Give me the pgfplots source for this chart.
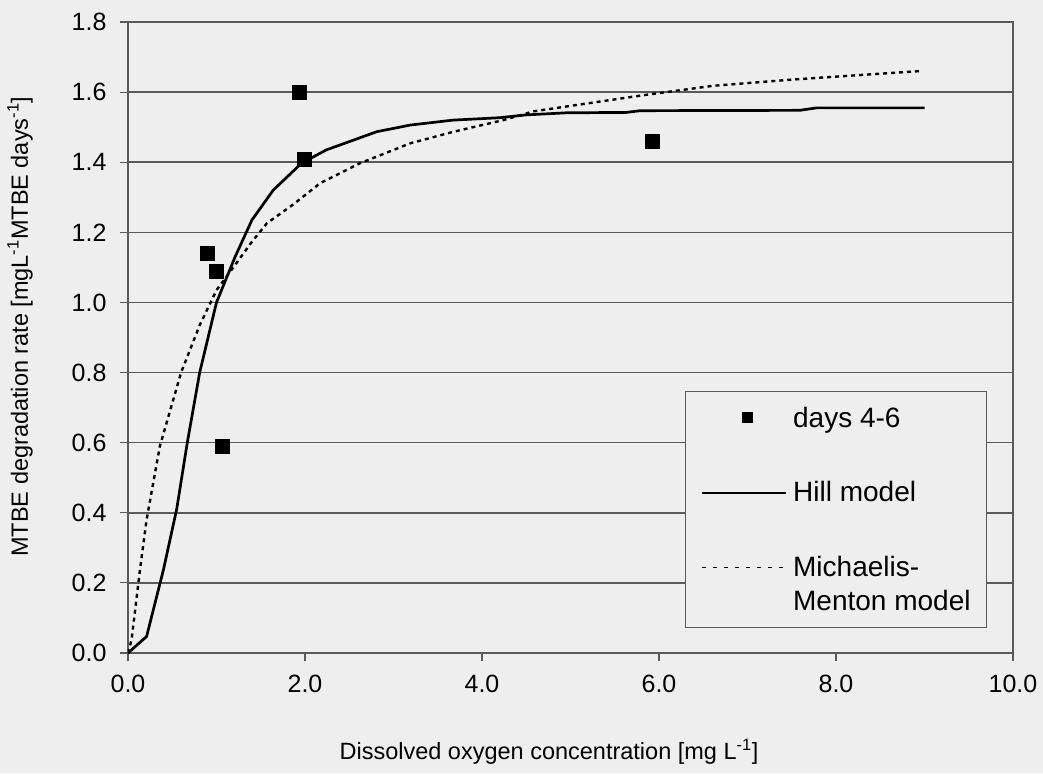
\documentclass[border=0pt]{standalone}
\usepackage{pgfplots}
\pgfplotsset{compat=1.18}
\usepackage{fontspec}
\setmainfont{Liberation Sans}
\definecolor{bg}{RGB}{238,238,238}
\definecolor{gridc}{RGB}{90,90,90}
\begin{document}
\begin{tikzpicture}
\useasboundingbox (-128pt,-120pt) rectangle (915pt,653pt);
\fill[bg] (-128pt,-120pt) rectangle (915pt,653pt);
\begin{axis}[
  scale only axis,
  width=885pt, height=631pt,
  xmin=0, xmax=10, ymin=0, ymax=1.8,
  xtick={0,2,4,6,8,10}, ytick={0,0.2,...,1.81},
  xticklabel={\pgfmathprintnumber[fixed,fixed zerofill,precision=1]{\tick}},
  yticklabel={\pgfmathprintnumber[fixed,fixed zerofill,precision=1]{\tick}},
  /pgf/number format/assume math mode=true,
  tick label style={font=\fontsize{25}{30}\selectfont},
  xticklabel style={yshift=-11pt},
  yticklabel style={xshift=-10pt},
  tick align=outside, major tick length=8pt,
  xtick pos=bottom, ytick pos=left,
  tick style={gridc, line width=1.2pt},
  axis line style={gridc, line width=1.5pt},
  ymajorgrids, major grid style={gridc, line width=1.5pt},
  xlabel={Dissolved oxygen concentration [mg L\textsuperscript{-1}]},
  ylabel={MTBE degradation rate [mgL\textsuperscript{-1}MTBE days\textsuperscript{-1}]},
  xlabel style={font=\fontsize{23.5}{28}\selectfont, at={(axis description cs:0.4757,-0.157)}, anchor=center},
  ylabel style={font=\fontsize{23.5}{28}\selectfont, at={(axis description cs:-0.122,0.517)}, anchor=center},
  legend style={at={(0.629,0.04)}, anchor=south west, fill=bg, draw=gridc, line width=1pt,
     font=\fontsize{28}{34}\selectfont, cells={anchor=west, align=left},
     row sep=49pt, inner xsep=14pt, inner ysep=13pt},
  legend cell align=left,
]
\addplot[only marks, mark=square*, mark size=7pt, black,
  legend image code/.code={\path[draw=none] (0pt,0pt) -- (92pt,0pt); \draw[mark=square*, mark size=5pt, black] plot coordinates {(48pt,0pt)};}]
  coordinates {(0.90,1.14) (1.0,1.09) (1.06,0.59) (1.94,1.60) (1.99,1.41) (5.92,1.46)};
\addlegendentry{days 4-6}
\addplot[black, line width=2.7pt, mark=none,
  legend image code/.code={\path[draw=none] (0pt,0pt) -- (92pt,0pt); \draw[black, line width=2pt] (3pt,0pt) -- (87pt,0pt);}]
  coordinates {(0,0) (0.21,0.047) (0.40,0.237) (0.55,0.41) (0.67,0.60) (0.81,0.80) (1.0,1.0) (1.21,1.13) (1.40,1.235) (1.64,1.32) (1.96,1.397) (2.24,1.435) (2.81,1.487) (3.19,1.506) (3.67,1.52) (4.2,1.527) (4.5,1.535) (4.96,1.541) (5.63,1.542) (5.79,1.547) (7.59,1.548) (7.78,1.555) (9.0,1.555)};
\addlegendentry{Hill model}
\addplot[black, line width=2.4pt, dash pattern=on 4pt off 4pt, mark=none,
  legend image code/.code={\path[draw=none] (0pt,0pt) -- (92pt,0pt); \draw[black, line width=1.5pt, dash pattern=on 4pt off 7pt] (3pt,17pt) -- (87pt,17pt);}]
  coordinates {(0,0) (0.04,0.037) (0.135,0.237) (0.21,0.38) (0.36,0.59) (0.6,0.80) (0.81,0.935) (1.0,1.035) (1.21,1.107) (1.4,1.173) (1.57,1.226) (1.87,1.28) (2.17,1.34) (2.62,1.397) (3.19,1.454) (3.68,1.487) (4.24,1.52) (4.58,1.545) (5.79,1.59) (6.61,1.618) (7.52,1.636) (8.35,1.65) (8.95,1.66)};
\addlegendentry{Michaelis-\\Menton model}
\end{axis}
\end{tikzpicture}
\end{document}
